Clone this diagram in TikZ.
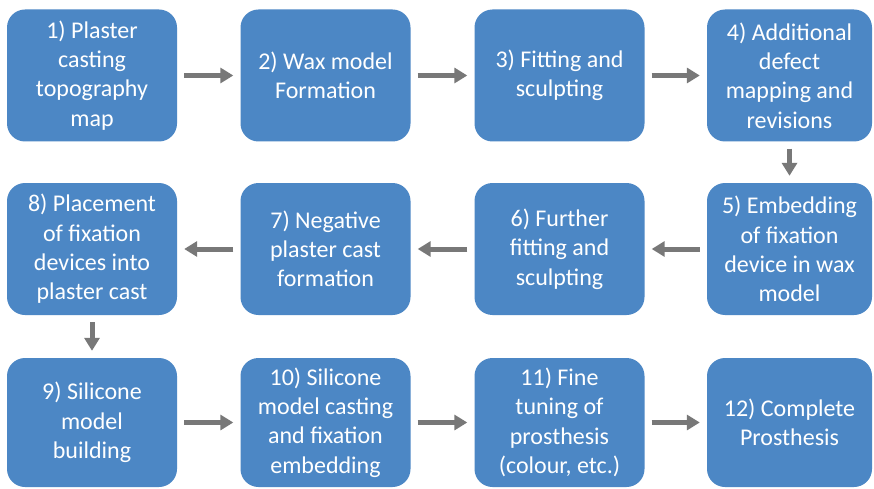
\documentclass[tikz,border=0pt]{standalone}
\usepackage{fontspec}
\setmainfont{Carlito}
\usetikzlibrary{arrows.meta}
\definecolor{boxblue}{HTML}{4C87C5}
\definecolor{arrgray}{HTML}{787878}
\tikzset{
  stepbox/.style={fill=boxblue, draw=none, rounded corners=18pt, minimum width=170pt, minimum height=132pt, inner sep=2pt, text=white, align=center, font=\fontsize{24}{29.3}\selectfont},
  flow/.style={draw=arrgray, line width=5pt, -{Triangle[length=13pt,width=15pt]}, shorten >=7pt, shorten <=7pt}
}
\begin{document}
\begin{tikzpicture}[x=1pt,y=-1pt]
\useasboundingbox[fill=white] (0,0) rectangle (874,489);
\node[stepbox] (n1) at (92,75.5) {1) Plaster\\casting\\topography\\map};
\node[stepbox] (n2) at (325.5,75.5) {2) Wax model\\Formation};
\node[stepbox] (n3) at (559.5,75.5) {3) Fitting and\\sculpting};
\node[stepbox, minimum width=165pt] (n4) at (789.5,75.5) {4) Additional\\defect\\mapping and\\revisions};
\node[stepbox, minimum width=165pt] (n5) at (789.5,249) {5) Embedding\\of fixation\\device in wax\\model};
\node[stepbox] (n6) at (559.5,249) {6) Further\\fitting and\\sculpting};
\node[stepbox] (n7) at (325.5,249) {7) Negative\\plaster cast\\formation};
\node[stepbox] (n8) at (92,249) {8) Placement\\of fixation\\devices into\\plaster cast};
\node[stepbox, minimum height=129pt] (n9) at (92,422.5) {9) Silicone\\model\\building};
\node[stepbox, minimum height=129pt] (n10) at (325.5,422.5) {10) Silicone\\model casting\\and fixation\\embedding};
\node[stepbox, minimum height=129pt] (n11) at (559.5,422.5) {11) Fine\\tuning of\\prosthesis\\(colour, etc.)};
\node[stepbox, minimum width=165pt, minimum height=129pt] (n12) at (789.5,422.5) {12) Complete\\Prosthesis};
\draw[flow] (n1) -- (n2);
\draw[flow] (n2) -- (n3);
\draw[flow] (n3) -- (n4);
\draw[flow] (n4) -- (n5);
\draw[flow] (n5) -- (n6);
\draw[flow] (n6) -- (n7);
\draw[flow] (n7) -- (n8);
\draw[flow] (n8) -- (n9);
\draw[flow] (n9) -- (n10);
\draw[flow] (n10) -- (n11);
\draw[flow] (n11) -- (n12);
\end{tikzpicture}
\end{document}
